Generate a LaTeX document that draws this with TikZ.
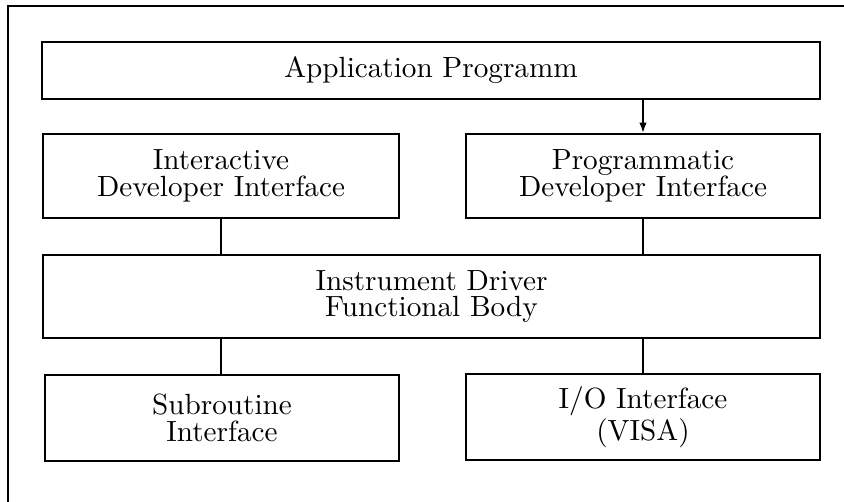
\documentclass[tikz,border=0pt]{standalone}
\usetikzlibrary{fit,arrows.meta}
\begin{document}
\begin{tikzpicture}[x=0.3356pt,y=-0.3356pt,
  box/.style={draw,line width=0.6pt,inner sep=0pt},
  txt/.style={inner sep=0pt,align=center,font=\fontsize{9.8}{9}\selectfont},
  conn/.style={line width=0.6pt},
  frame/.style={line width=0.6pt}]
\useasboundingbox (0,0) rectangle (844,502);
\coordinate (fc) at (8,6);
\coordinate (fr) at (850,6);
\coordinate (fb) at (8,508);
\draw[frame] (fr) -- (fc) -- (fb);
\node[box,fit={(42,42) (820,99)}] (app) {};
\node[txt] (appt) at (app.center) {Application Programm};
\node[box,fit={(43,134) (399,218)}] (idi) {};
\node[txt] (idit) at (idi.center) {Interactive\\Developer Interface};
\node[box,fit={(466,134) (820,218)}] (pdi) {};
\node[txt] (pdit) at (pdi.center) {Programmatic\\Developer Interface};
\node[box,fit={(43,255) (820,338)}] (drv) {};
\node[txt] (drvt) at (drv.center) {Instrument Driver\\Functional Body};
\node[box,fit={(45,375) (399,461)}] (sub) {};
\node[txt] (subt) at (sub.center) {Subroutine\\Interface};
\node[box,fit={(466,374) (820,460)}] (io) {};
\node[txt] (iot) at (io.center) {I/O Interface\\(VISA)};
\draw[conn,-{Latex[length=3.5pt,width=2.5pt]}] (pdi.north |- app.south) -- (pdi.north);
\draw[conn] (idi.south) -- (idi.south |- drv.north);
\draw[conn] (pdi.south) -- (pdi.south |- drv.north);
\draw[conn] (idi.south |- drv.south) -- (idi.south |- sub.north);
\draw[conn] (pdi.south |- drv.south) -- (pdi.south |- io.north);
\end{tikzpicture}
\end{document}
